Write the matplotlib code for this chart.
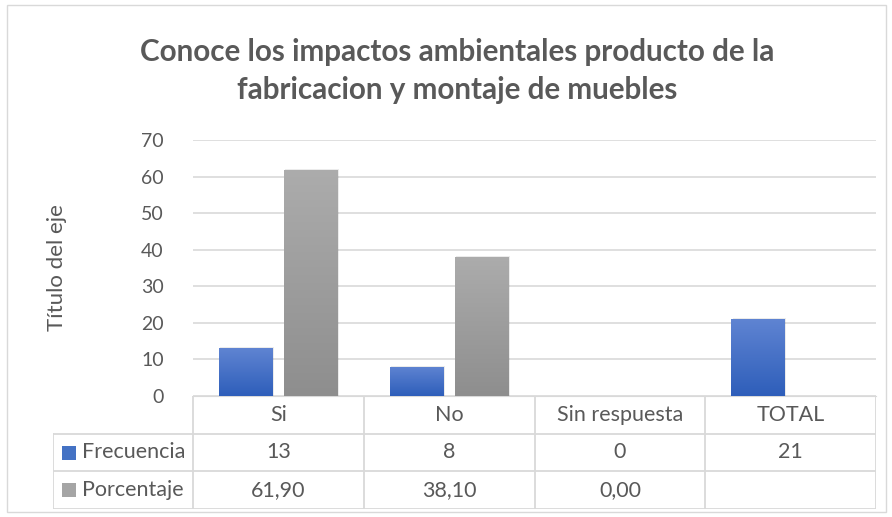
import matplotlib
matplotlib.use("Agg")
import matplotlib.pyplot as plt
import numpy as np
from matplotlib.patches import Rectangle

categories = ["Si", "No", "Sin respuesta", "TOTAL"]
series_names = ["Frecuencia", "Porcentaje"]
frecuencia = [13, 8, 0, 21]
porcentaje = [61.90, 38.10, 0.00, None]
frec_labels = ["13", "8", "0", "21"]
porc_labels = ["61,90", "38,10", "0,00", ""]
yticks = [0, 10, 20, 30, 40, 50, 60, 70]
title_lines = ["Conoce los impactos ambientales producto de la",
               "fabricacion y montaje de muebles"]
ylabel = "Título del eje"

W, H = 892, 517
FONT = ["Lato", "DejaVu Sans"]
TXT = "#595959"
GRID = "#d9d9d9"
TFS = 15.5

fig = plt.figure(figsize=(W / 100, H / 100), dpi=100)
fig.patch.set_facecolor("white")

def fx(px):
    return px / W

def fy(py):
    return 1 - py / H

# outer chart border
fig.patches.append(Rectangle((fx(7), fy(512)), fx(886) - fx(7), fy(5) - fy(512),
                             transform=fig.transFigure, fill=False, edgecolor=GRID, lw=1))

# plot area
x0, x1, ytop, ybot = 193, 876, 140, 396
ax = fig.add_axes([fx(x0), fy(ybot), fx(x1) - fx(x0), fy(ytop) - fy(ybot)])
n = len(categories)
ax.set_xlim(-0.5, n - 0.5)
ax.set_ylim(0, 70)
ax.set_yticks(yticks)
ax.set_yticklabels([str(t) for t in yticks], fontsize=14, color=TXT, family=FONT)
ax.tick_params(axis="y", length=0, pad=21)
ax.tick_params(axis="x", length=0, labelbottom=False)
ax.set_xticks([])
for s in ["top", "right", "left"]:
    ax.spines[s].set_visible(False)
ax.spines["bottom"].set_color(GRID)
ax.yaxis.grid(True, color=GRID, lw=1.2)
ax.set_axisbelow(True)

bw = 0.315
off = 0.19
x = np.arange(n)

def grad_bar(xc, h, top_c, bot_c):
    if h is None or h <= 0:
        return
    sh = Rectangle((xc - bw / 2 + 0.008, 0), bw, h + 0.3, color="#000000", alpha=0.08, lw=0, zorder=2)
    ax.add_patch(sh)
    b = ax.bar(xc, h, width=bw, color=bot_c, lw=0, zorder=3)[0]
    grad = np.linspace(0, 1, 256).reshape(-1, 1)
    tc = np.array(matplotlib.colors.to_rgb(top_c))
    bc = np.array(matplotlib.colors.to_rgb(bot_c))
    img = bc[None, None, :] * (1 - grad[..., None]) + tc[None, None, :] * grad[..., None]
    im = ax.imshow(img, extent=[xc - bw / 2, xc + bw / 2, 0, h], origin="lower",
                   aspect="auto", zorder=4)
    im.set_clip_path(b)

for i in range(n):
    grad_bar(x[i] - off, frecuencia[i], "#5f84d2", "#2e5eba")
    grad_bar(x[i] + off, porcentaje[i], "#acacac", "#8e8e8e")
ax.set_xlim(-0.5, n - 0.5)
ax.set_ylim(0, 70)

# axis title
fig.text(fx(57), fy(268), ylabel, rotation=90, ha="center", va="center",
         fontsize=16, color=TXT, family=FONT)

# chart title
for yy, line in zip([52, 90], title_lines):
    fig.text(fx(457), fy(yy), line, ha="center", va="center", fontsize=21.3,
             fontweight="bold", color=TXT, family=FONT)

# data table
tl, tt, tb = 53, 396, 509
tax = fig.add_axes([fx(tl), fy(tb), fx(x1) - fx(tl), fy(tt) - fy(tb)])
cat_px = (x1 - x0) / n
left_ext = (x0 - tl) / cat_px
tax.set_xlim(-0.5 - left_ext, n - 0.5)
tax.set_ylim(3, 0)
tax.axis("off")
lc = dict(color=GRID, lw=1.3)
tax.plot([-0.5, n - 0.5], [0, 0], **lc)
for r in [1, 2, 3]:
    tax.plot([-0.5 - left_ext, n - 0.5], [r, r], **lc)
for c in range(n + 1):
    tax.plot([c - 0.5, c - 0.5], [0, 3], **lc)
tax.plot([-0.5 - left_ext, -0.5 - left_ext], [1, 3], **lc)

for i, c in enumerate(categories):
    tax.text(i, 0.5, c, ha="center", va="center", fontsize=TFS, color=TXT, family=FONT)
for i in range(n):
    tax.text(i, 1.5, frec_labels[i], ha="center", va="center", fontsize=TFS, color=TXT, family=FONT)
    tax.text(i, 2.5, porc_labels[i], ha="center", va="center", fontsize=TFS, color=TXT, family=FONT)

key_colors = ["#4472c4", "#a5a5a5"]
row_px = (tb - tt) / 3
for r, (name, kc) in enumerate(zip(series_names, key_colors)):
    kx = -0.5 - left_ext + 9 / cat_px
    ky = r + 1.5
    tax.add_patch(Rectangle((kx, ky - 7 / row_px), 14 / cat_px, 14 / row_px, color=kc, lw=0))
    tax.text(kx + 20 / cat_px, ky, name, ha="left", va="center", fontsize=TFS,
             color=TXT, family=FONT)

fig.savefig("out.png", dpi=100, facecolor="white")
